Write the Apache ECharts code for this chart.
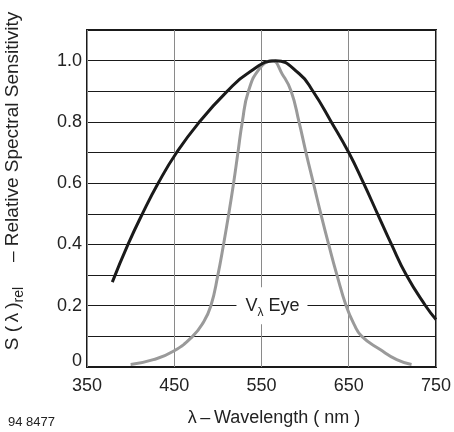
<!DOCTYPE html>
<html><head><meta charset="utf-8">
<script src="https://cdn.jsdelivr.net/npm/echarts@6/dist/echarts.min.js"></script>
<style>html,body{margin:0;padding:0;background:#fff}#c{width:454px;height:432px}</style>
</head><body><div id="c"></div>
<script>
// Detector relative spectral sensitivity (black)
const detectorWavelength = [379, 397, 414, 432, 452, 478, 510, 536, 566, 593, 609, 630, 650, 667, 683, 699, 716, 738, 750];
const detectorSensitivity = [0.277, 0.40, 0.503, 0.602, 0.697, 0.797, 0.898, 0.962, 1.0, 0.958, 0.90, 0.80, 0.70, 0.60, 0.50, 0.40, 0.30, 0.20, 0.155];
// V-lambda eye response (gray)
const eyeWavelength = [400, 426, 450, 471, 483, 492, 500, 506.5, 512.5, 518, 523, 528, 535, 548, 562, 574, 584, 593, 601, 609.5, 618, 627, 636.5, 647, 656, 665, 686, 705, 722];
const eyeSensitivity = [0.008, 0.024, 0.053, 0.10, 0.144, 0.20, 0.30, 0.40, 0.50, 0.60, 0.70, 0.80, 0.90, 0.975, 1.0, 0.955, 0.90, 0.80, 0.70, 0.60, 0.50, 0.40, 0.30, 0.20, 0.14, 0.10, 0.057, 0.024, 0.008];
const xTicks = [350, 450, 550, 650, 750];
const yTickLabels = ['0', '0.2', '0.4', '0.6', '0.8', '1.0'];

const FONT = "'Liberation Sans', Arial, sans-serif";
const pairs = (xs, ys) => xs.map((x, i) => [x, ys[i]]);
const chart = echarts.init(document.getElementById('c'), null, {renderer: 'canvas'});
chart.setOption({
  animation: false,
  backgroundColor: '#fff',
  grid: {left: 87, right: 18, top: 30, bottom: 65, show: true, borderColor: '#1a1a1a', borderWidth: 2, backgroundColor: 'transparent'},
  xAxis: {
    type: 'value', min: xTicks[0], max: xTicks[xTicks.length - 1], interval: 100,
    axisLine: {show: false}, axisTick: {show: false},
    axisLabel: {margin: 10, fontSize: 18, color: '#222', fontFamily: FONT},
    splitLine: {show: true, lineStyle: {color: '#8a8a8a', width: 1}}
  },
  yAxis: {
    type: 'value', min: 0, max: 1.1, interval: 0.1,
    axisLine: {show: false}, axisTick: {show: false},
    axisLabel: {margin: 5, fontSize: 18, color: '#222', fontFamily: FONT,
      formatter: v => { const k = Math.round(v * 10); if (k === 0) return '{z|' + yTickLabels[0] + '}'; return k % 2 === 0 && k / 2 < yTickLabels.length ? yTickLabels[k / 2] : ''; },
      rich: {z: {fontSize: 18, fontFamily: FONT, color: '#222', padding: [0, 0, 12, 0]}}},
    splitLine: {show: true, lineStyle: {color: '#1a1a1a', width: 1}}
  },
  series: [
    {type: 'line', data: pairs(eyeWavelength, eyeSensitivity), smooth: 0.5, showSymbol: false,
     lineStyle: {color: '#9a9a9a', width: 3}, z: 3,
     markPoint: {symbol: 'rect', symbolSize: 0, silent: true, data: [{coord: [562, 0.2]}],
       label: {show: true, position: 'inside', backgroundColor: '#fff', padding: [6, 8, 6, 9],
         formatter: '{v|V}{s|λ}{e| Eye}',
         rich: {v: {fontSize: 18, fontFamily: FONT, color: '#222'},
                s: {fontSize: 12, fontFamily: FONT, color: '#222', padding: [13, 0, 0, 0]},
                e: {fontSize: 18, fontFamily: FONT, color: '#222'}}}}},
    {type: 'line', data: pairs(detectorWavelength, detectorSensitivity), smooth: 0.5, showSymbol: false,
     lineStyle: {color: '#1a1a1a', width: 3}, z: 4}
  ],
  graphic: [
    {type: 'text', x: 13, y: 181, rotation: Math.PI / 2,
     style: {text: '{a|S (\u2009λ\u2009)}{s|rel}{a|    \u2009– Relative Spectral Sensitivity}', align: 'center', verticalAlign: 'middle',
       rich: {a: {fontSize: 19, fontFamily: FONT, fill: '#222'}, s: {fontSize: 14, fontFamily: FONT, fill: '#222', padding: [12, 0, 0, 0]}}}},
    {type: 'text', x: 274, y: 418,
     style: {text: 'λ\u2009–\u2009Wavelength ( nm )', align: 'center', verticalAlign: 'middle', fontSize: 18, fontFamily: FONT, fill: '#222'}},
    {type: 'text', x: 8, y: 422,
     style: {text: '94 8477', align: 'left', verticalAlign: 'middle', fontSize: 13, fontFamily: FONT, fill: '#222'}}
  ]
});
</script></body></html>
